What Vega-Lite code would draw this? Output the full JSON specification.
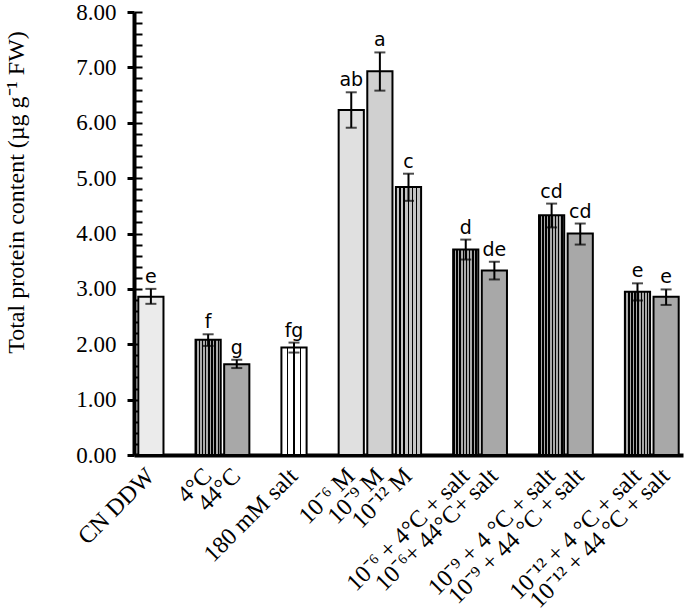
{
  "$schema": "https://vega.github.io/schema/vega-lite/v6.json",
  "width": 549,
  "height": 443,
  "autosize": {"type": "none"},
  "padding": {"left": 134, "top": 12, "right": 2, "bottom": 157},
  "background": "white",
  "config": {"view": {"stroke": null}, "axis": {"grid": false}},
  "data": {
    "values": [
      {"label": "CN DDW", "mean": 2.86, "lo": 2.73, "hi": 3.0, "sig": "e"},
      {"label": "4°C", "mean": 2.08, "lo": 1.97, "hi": 2.18, "sig": "f"},
      {"label": "44°C", "mean": 1.64, "lo": 1.57, "hi": 1.72, "sig": "g"},
      {"label": "180 mM salt", "mean": 1.94, "lo": 1.85, "hi": 2.03, "sig": "fg"},
      {"label": "10⁻⁶ M", "mean": 6.23, "lo": 5.91, "hi": 6.55, "sig": "ab"},
      {"label": "10⁻⁹ M", "mean": 6.93, "lo": 6.58, "hi": 7.27, "sig": "a"},
      {"label": "10⁻¹² M", "mean": 4.84, "lo": 4.59, "hi": 5.08, "sig": "c"},
      {"label": "10⁻⁶ + 4°C + salt", "mean": 3.71, "lo": 3.53, "hi": 3.89, "sig": "d"},
      {"label": "10⁻⁶+ 44°C+ salt", "mean": 3.33, "lo": 3.17, "hi": 3.49, "sig": "de"},
      {"label": "10⁻⁹ + 4 °C + salt", "mean": 4.33, "lo": 4.11, "hi": 4.54, "sig": "cd"},
      {"label": "10⁻⁹ + 44 °C + salt", "mean": 4.0, "lo": 3.8, "hi": 4.18, "sig": "cd"},
      {"label": "10⁻¹² + 4 °C + salt", "mean": 2.95, "lo": 2.79, "hi": 3.1, "sig": "e"},
      {"label": "10⁻¹² + 44 °C + salt", "mean": 2.86, "lo": 2.71, "hi": 2.99, "sig": "e"}
    ]
  },
  "encoding": {
    "x": {
      "field": "label",
      "type": "nominal",
      "scale": {
        "domain": ["CN DDW", " ", "4°C", "44°C", "  ", "180 mM salt", "   ", "10⁻⁶ M", "10⁻⁹ M", "10⁻¹² M", "    ", "10⁻⁶ + 4°C + salt", "10⁻⁶+ 44°C+ salt", "     ", "10⁻⁹ + 4 °C + salt", "10⁻⁹ + 44 °C + salt", "      ", "10⁻¹² + 4 °C + salt", "10⁻¹² + 44 °C + salt"],
        "paddingInner": 0.12,
        "paddingOuter": 0.15
      },
      "axis": {
        "title": null,
        "orient": "bottom",
        "labelAngle": -45,
        "labelAlign": "right",
        "labelBaseline": "middle",
        "labelFont": "Liberation Serif",
        "labelFontSize": 24,
        "labelColor": "black",
        "labelPadding": 17,
        "labelLimit": 0,
        "labelOverlap": false,
        "labelBound": false,
        "ticks": false,
        "tickSize": 0,
        "domainColor": "black",
        "domainWidth": 4
      }
    }
  },
  "layer": [
    {
      "mark": {"type": "bar", "stroke": "black", "strokeWidth": 2},
      "encoding": {
        "y": {
          "field": "mean",
          "type": "quantitative",
          "scale": {"domain": [0, 8], "nice": false},
          "axis": {
            "orient": "left",
            "values": [0, 1, 2, 3, 4, 5, 6, 7, 8],
            "format": ".2f",
            "labelFont": "Liberation Serif",
            "labelFontSize": 23,
            "labelColor": "black",
            "labelPadding": 11,
            "tickSize": 7,
            "tickWidth": 3,
            "tickColor": "black",
            "domainColor": "black",
            "domainWidth": 4,
            "title": "Total protein content (µg g⁻¹ FW)",
            "titleFont": "Liberation Serif",
            "titleFontSize": 24,
            "titleFontWeight": "normal",
            "titleColor": "black",
            "titleAnchor": "middle",
            "titleAlign": "center",
            "titleX": -118,
            "titleY": 180,
            "titleBaseline": "middle"
          }
        },
        "fill": {
          "condition": [
            {"test": "indexof(datum.label,'44')>=0", "value": "#a8a8a8"},
            {"test": "indexof(datum.label,'°C')>=0", "value": {
              "gradient": "linear", "x1": 0, "y1": 0, "x2": 1, "y2": 0,
              "stops": [
                {"offset": 0, "color": "#000"}, {"offset": 0.06, "color": "#000"}, {"offset": 0.06, "color": "#aaa"}, {"offset": 0.125, "color": "#aaa"},
                {"offset": 0.125, "color": "#000"}, {"offset": 0.185, "color": "#000"}, {"offset": 0.185, "color": "#aaa"}, {"offset": 0.25, "color": "#aaa"},
                {"offset": 0.25, "color": "#000"}, {"offset": 0.31, "color": "#000"}, {"offset": 0.31, "color": "#aaa"}, {"offset": 0.375, "color": "#aaa"},
                {"offset": 0.375, "color": "#000"}, {"offset": 0.435, "color": "#000"}, {"offset": 0.435, "color": "#aaa"}, {"offset": 0.5, "color": "#aaa"},
                {"offset": 0.5, "color": "#000"}, {"offset": 0.56, "color": "#000"}, {"offset": 0.56, "color": "#aaa"}, {"offset": 0.625, "color": "#aaa"},
                {"offset": 0.625, "color": "#000"}, {"offset": 0.685, "color": "#000"}, {"offset": 0.685, "color": "#aaa"}, {"offset": 0.75, "color": "#aaa"},
                {"offset": 0.75, "color": "#000"}, {"offset": 0.81, "color": "#000"}, {"offset": 0.81, "color": "#aaa"}, {"offset": 0.875, "color": "#aaa"},
                {"offset": 0.875, "color": "#000"}, {"offset": 0.935, "color": "#000"}, {"offset": 0.935, "color": "#aaa"}, {"offset": 1, "color": "#aaa"}
              ]
            }},
            {"test": "datum.label==='180 mM salt'", "value": {
              "gradient": "linear", "x1": 0, "y1": 0, "x2": 1, "y2": 0,
              "stops": [
                {"offset": 0, "color": "#fff"}, {"offset": 0.22, "color": "#fff"}, {"offset": 0.22, "color": "#000"}, {"offset": 0.28, "color": "#000"},
                {"offset": 0.28, "color": "#fff"}, {"offset": 0.47, "color": "#fff"}, {"offset": 0.47, "color": "#000"}, {"offset": 0.53, "color": "#000"},
                {"offset": 0.53, "color": "#fff"}, {"offset": 0.72, "color": "#fff"}, {"offset": 0.72, "color": "#000"}, {"offset": 0.78, "color": "#000"},
                {"offset": 0.78, "color": "#fff"}, {"offset": 1, "color": "#fff"}
              ]
            }},
            {"test": "datum.label==='10⁻⁶ M'", "value": "#e0e0e0"},
            {"test": "datum.label==='10⁻⁹ M'", "value": "#d0d0d0"},
            {"test": "datum.label==='10⁻¹² M'", "value": {
              "gradient": "linear", "x1": 0, "y1": 0, "x2": 1, "y2": 0,
              "stops": [
                {"offset": 0, "color": "#c4c4c4"}, {"offset": 0.14, "color": "#c4c4c4"}, {"offset": 0.14, "color": "#000"}, {"offset": 0.19, "color": "#000"},
                {"offset": 0.19, "color": "#c4c4c4"}, {"offset": 0.30, "color": "#c4c4c4"}, {"offset": 0.30, "color": "#000"}, {"offset": 0.35, "color": "#000"},
                {"offset": 0.35, "color": "#c4c4c4"}, {"offset": 0.47, "color": "#c4c4c4"}, {"offset": 0.47, "color": "#000"}, {"offset": 0.52, "color": "#000"},
                {"offset": 0.52, "color": "#c4c4c4"}, {"offset": 0.64, "color": "#c4c4c4"}, {"offset": 0.64, "color": "#000"}, {"offset": 0.69, "color": "#000"},
                {"offset": 0.69, "color": "#c4c4c4"}, {"offset": 0.80, "color": "#c4c4c4"}, {"offset": 0.80, "color": "#000"}, {"offset": 0.85, "color": "#000"},
                {"offset": 0.85, "color": "#c4c4c4"}, {"offset": 1, "color": "#c4c4c4"}
              ]
            }}
          ],
          "value": "#ebebeb"
        }
      }
    },
    {
      "mark": {"type": "errorbar", "ticks": true, "size": 11, "thickness": 2, "color": "black"},
      "encoding": {
        "y": {"field": "hi", "type": "quantitative", "axis": null},
        "y2": {"field": "lo"}
      }
    },
    {
      "mark": {"type": "text", "font": "DejaVu Sans", "fontSize": 19, "color": "black", "baseline": "alphabetic", "dy": -6},
      "encoding": {
        "y": {
          "field": "hi",
          "type": "quantitative",
          "axis": {
            "orient": "right",
            "offset": -549,
            "values": [0, 0.2, 0.4, 0.6, 0.8, 1, 1.2, 1.4, 1.6, 1.8, 2, 2.2, 2.4, 2.6, 2.8, 3, 3.2, 3.4, 3.6, 3.8, 4, 4.2, 4.4, 4.6, 4.8, 5, 5.2, 5.4, 5.6, 5.8, 6, 6.2, 6.4, 6.6, 6.8, 7, 7.2, 7.4, 7.6, 7.8, 8],
            "labels": false,
            "domain": false,
            "title": null,
            "ticks": true,
            "tickSize": 8,
            "tickWidth": 2,
            "tickColor": "black"
          }
        },
        "text": {"field": "sig"}
      }
    }
  ],
  "resolve": {"axis": {"y": "independent"}}
}
